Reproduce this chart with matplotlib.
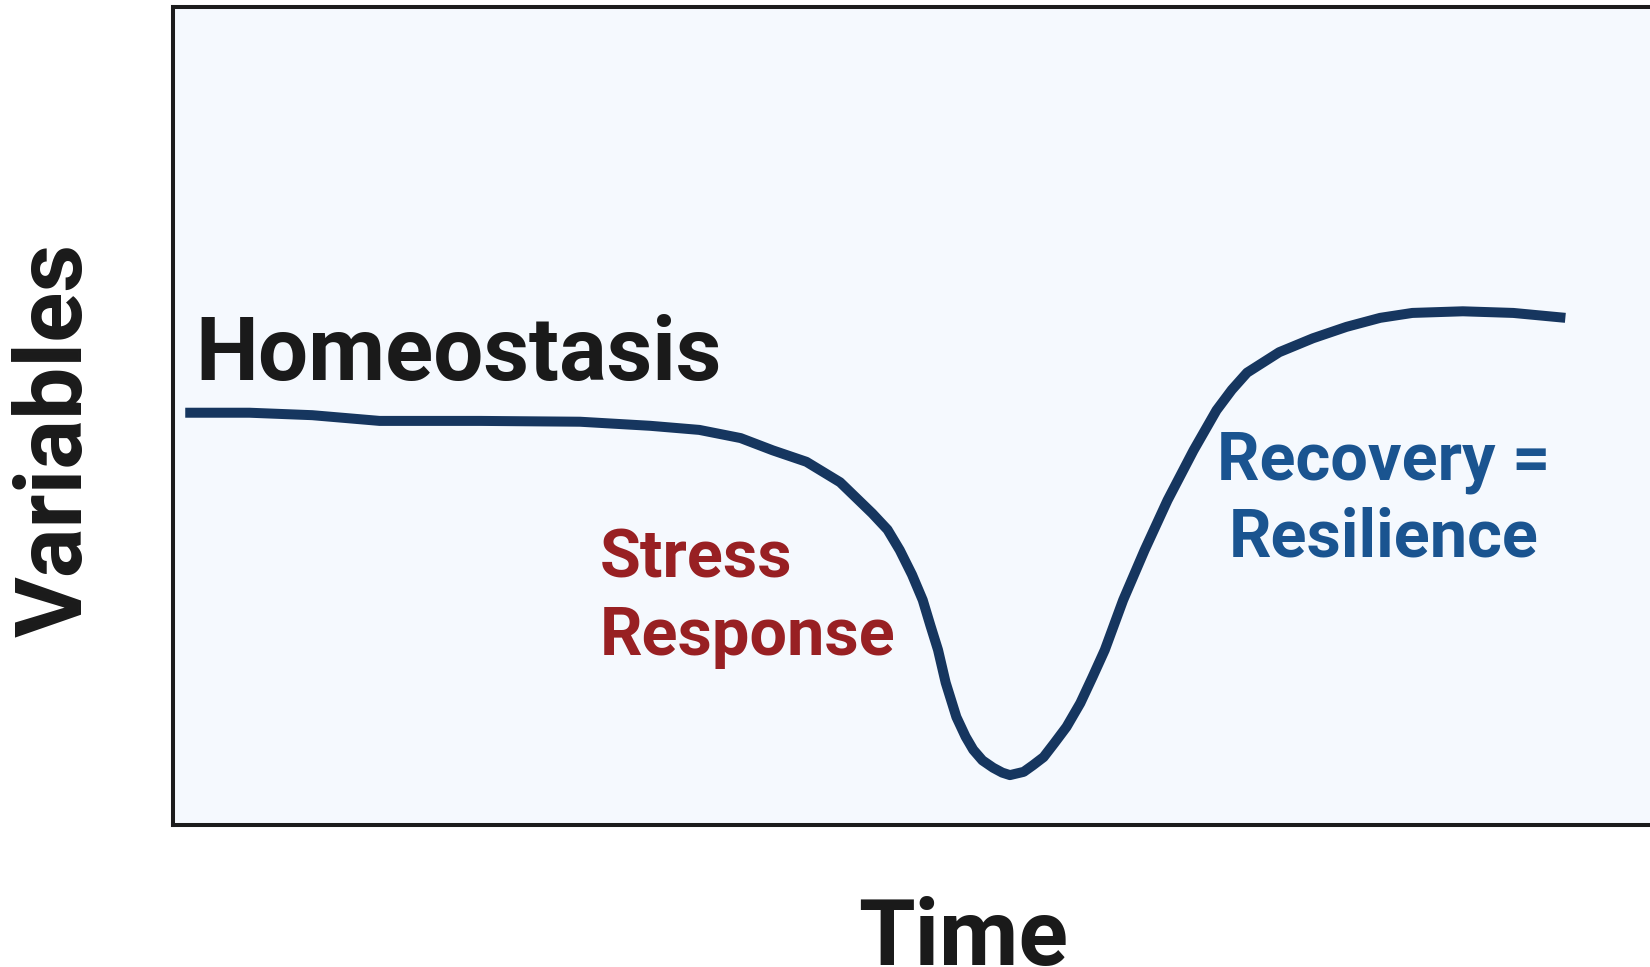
import matplotlib
matplotlib.use('Agg')
import matplotlib.pyplot as plt

# curve (time vs. level of the variables)
time = [0.10, 0.52, 0.93, 1.37, 2.03, 2.68, 3.14, 3.46, 3.73, 3.94, 4.16, 4.38,
        4.59, 4.69, 4.77, 4.85, 4.92, 4.97, 5.02, 5.07, 5.14, 5.20, 5.25, 5.31,
        5.38, 5.44, 5.49, 5.58, 5.64, 5.71, 5.78, 5.86, 5.95, 6.03, 6.11, 6.23,
        6.37, 6.52, 6.69, 6.84, 6.94, 7.04, 7.25, 7.47, 7.69, 7.91, 8.12, 8.45,
        8.78, 9.12]
level = [5.04, 5.04, 5.01, 4.94, 4.94, 4.93, 4.88, 4.83, 4.73, 4.58, 4.44, 4.19,
         3.81, 3.61, 3.36, 3.06, 2.75, 2.44, 2.14, 1.74, 1.32, 1.08, 0.92, 0.79,
         0.70, 0.64, 0.61, 0.65, 0.73, 0.83, 1.00, 1.20, 1.49, 1.81, 2.14, 2.75,
         3.36, 3.97, 4.58, 5.07, 5.32, 5.53, 5.78, 5.95, 6.09, 6.20, 6.26, 6.28,
         6.26, 6.20]

x_label = "Time"
y_label = "Variables"
phase_label = "Homeostasis"
stress_lines = ["Stress", "Response"]
recovery_lines = ["Recovery =", "Resilience"]

plt.rcParams['font.family'] = ['Roboto', 'Liberation Sans', 'DejaVu Sans']

W, H = 1650, 967
fig = plt.figure(figsize=(W / 100, H / 100), dpi=100)
# axes box runs off the right edge of the picture
ax = fig.add_axes([173 / W, (H - 825) / H, (1700 - 173) / W, 818 / H])
ax.set_facecolor('#f5f9fe')
ax.set_xlim(0.02, 10.0)
ax.set_ylim(0, 10)
ax.set_xticks([])
ax.set_yticks([])
for side in ['left', 'top', 'bottom', 'right']:
    ax.spines[side].set_linewidth(2.9)
    ax.spines[side].set_color('#1c1c1c')

ax.plot(time, level, color='#16365f', lw=7.2, solid_capstyle='butt',
        solid_joinstyle='round')

ax.text(0.163, 5.44, phase_label, fontsize=64, fontweight='bold',
        color='#1a1a1a', ha='left', va='baseline')

ax.text(2.81, 3.03, stress_lines[0], fontsize=48, fontweight='bold',
        color='#982023', ha='left', va='baseline')
ax.text(2.81, 2.08, stress_lines[1], fontsize=48, fontweight='bold',
        color='#982023', ha='left', va='baseline')

ax.text(7.93, 4.22, recovery_lines[0], fontsize=48, fontweight='bold',
        color='#1a5490', ha='center', va='baseline')
ax.text(7.93, 3.28, recovery_lines[1], fontsize=48, fontweight='bold',
        color='#1a5490', ha='center', va='baseline')

fig.text(963 / W, (H - 965) / H, x_label, fontsize=66, fontweight='bold',
         color='#1a1a1a', ha='center', va='baseline')
fig.text(82 / W, (H - 440) / H, y_label, fontsize=67, fontweight='bold',
         color='#1a1a1a', ha='center', va='baseline', rotation=90,
         rotation_mode='anchor')

fig.savefig('out.png', dpi=100, facecolor='white')
plt.close('all')
